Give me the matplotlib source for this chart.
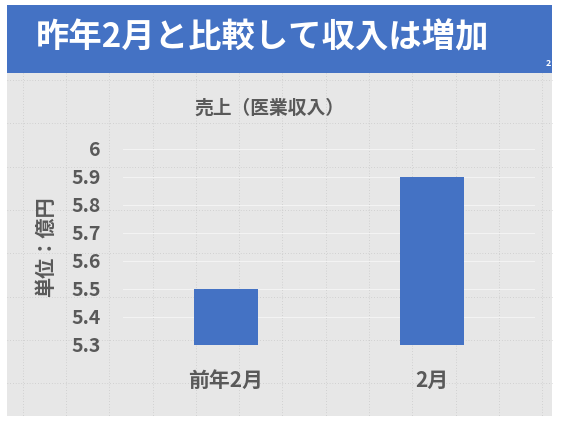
import matplotlib.pyplot as plt
from matplotlib.patches import Rectangle
import numpy as np

plt.rcParams['font.family'] = ['Noto Sans CJK JP', 'DejaVu Sans']

# Data
categories = ['前年2月', '2月']
revenue = [5.5, 5.9]
yticks = [5.3, 5.4, 5.5, 5.6, 5.7, 5.8, 5.9, 6]
ytick_labels = ['5.3', '5.4', '5.5', '5.6', '5.7', '5.8', '5.9', '6']

W, H = 562, 424
fig = plt.figure(figsize=(W / 100, H / 100), dpi=100)
fig.patch.set_facecolor('white')

# Slide background in pixel coordinates
bg = fig.add_axes([0, 0, 1, 1])
bg.set_xlim(0, W)
bg.set_ylim(H, 0)
bg.axis('off')
bg.add_patch(Rectangle((7, 5), 545, 411, facecolor='#e7e7e7', edgecolor='none'))

# slide guide grid (dotted)
step = 43.3
for x in np.arange(22.7, 552, step):
    bg.plot([x, x], [73, 416], color='#bdbdbd', lw=0.5, ls=(0, (1, 3)))
for y in np.arange(80, 416, step):
    bg.plot([7, 552], [y, y], color='#bdbdbd', lw=0.5, ls=(0, (1, 3)))

# title bar
bg.add_patch(Rectangle((7, 5), 545, 68, facecolor='#4472C4', edgecolor='none'))
bg.text(36, 38, '昨年2月と比較して収入は増加', color='white', fontsize=24,
        fontweight='bold', ha='left', va='center')
bg.text(548, 63, '2', color='white', fontsize=6.5, fontweight='bold',
        ha='center', va='center')

# Chart
left, right, top, bottom = 123, 535, 149, 345
ax = fig.add_axes([left / W, (H - bottom) / H, (right - left) / W, (bottom - top) / H])
ax.patch.set_alpha(0)
x = np.arange(len(categories))
ax.bar(x, [v - 5.3 for v in revenue], bottom=5.3, width=0.315,
       color='#4472C4', zorder=3)
ax.set_xlim(-0.5, 1.5)
ax.set_ylim(5.3, 6.0)
ax.set_yticks(yticks)
ax.set_yticklabels(ytick_labels)
ax.set_xticks(x)
ax.set_xticklabels(categories)
ax.grid(axis='y', color='#f3f3f3', lw=0.8, zorder=0)
for s in ax.spines.values():
    s.set_visible(False)
ax.tick_params(axis='both', length=0, colors='#595959')
ax.tick_params(axis='y', labelsize=14, pad=16)
ax.tick_params(axis='x', labelsize=15, pad=18)
for lab in ax.get_xticklabels() + ax.get_yticklabels():
    lab.set_fontweight('bold')

fig.text(269 / W, 1 - 108 / H, '売上（医業収入）', fontsize=13.5, fontweight='bold',
         color='#595959', ha='center', va='center')
fig.text(45 / W, 1 - 247 / H, '単位：億円', fontsize=14.5, fontweight='bold',
         color='#595959', ha='center', va='center', rotation=90)

fig.savefig('out.png', dpi=100)
